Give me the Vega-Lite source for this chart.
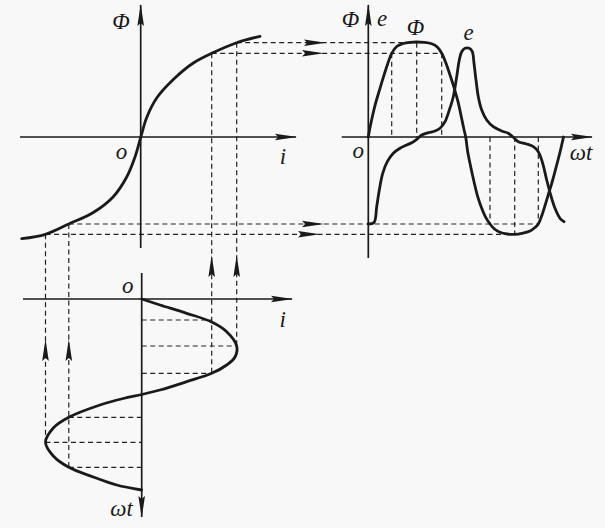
{
  "$schema": "https://vega.github.io/schema/vega-lite/v6.json",
  "width": 605,
  "height": 528,
  "autosize": {"type": "fit", "contains": "padding"},
  "padding": 0,
  "background": "#f8f8f8",
  "config": {"view": {"stroke": null}},
  "datasets": {
    "dashes": [
      {"x": 236.7, "y": 42.7, "x2": 416.7, "y2": 42.7},
      {"x": 211.7, "y": 53.3, "x2": 441.7, "y2": 53.3},
      {"x": 68.8, "y": 224, "x2": 538.3, "y2": 224},
      {"x": 45.5, "y": 234.3, "x2": 514.7, "y2": 234.3},
      {"x": 211.7, "y": 53.3, "x2": 211.7, "y2": 373.3},
      {"x": 236.7, "y": 42.7, "x2": 236.7, "y2": 346},
      {"x": 45.5, "y": 234.3, "x2": 45.5, "y2": 442.3},
      {"x": 68.8, "y": 224, "x2": 68.8, "y2": 467.3},
      {"x": 391.7, "y": 53.3, "x2": 391.7, "y2": 137},
      {"x": 416.7, "y": 42.7, "x2": 416.7, "y2": 137},
      {"x": 441.7, "y": 53.3, "x2": 441.7, "y2": 137},
      {"x": 490, "y": 137, "x2": 490, "y2": 224},
      {"x": 514.7, "y": 137, "x2": 514.7, "y2": 234.3},
      {"x": 538.3, "y": 137, "x2": 538.3, "y2": 224},
      {"x": 141.7, "y": 320, "x2": 211.7, "y2": 320},
      {"x": 141.7, "y": 346, "x2": 236.7, "y2": 346},
      {"x": 141.7, "y": 373.3, "x2": 211.7, "y2": 373.3},
      {"x": 68.8, "y": 417.3, "x2": 141.7, "y2": 417.3},
      {"x": 45.5, "y": 442.3, "x2": 141.7, "y2": 442.3},
      {"x": 68.8, "y": 467.3, "x2": 141.7, "y2": 467.3}
    ],
    "axes": [
      {"x": 140.7, "y": 248, "x2": 140.7, "y2": 5},
      {"x": 20, "y": 137, "x2": 296, "y2": 137},
      {"x": 368.3, "y": 258, "x2": 368.3, "y2": 5},
      {"x": 341.7, "y": 137, "x2": 592, "y2": 137},
      {"x": 141.7, "y": 273, "x2": 141.7, "y2": 517},
      {"x": 23, "y": 299, "x2": 292, "y2": 299}
    ],
    "arrows": [
      {"x": 140.7, "y": 15, "dir": "up"},
      {"x": 368.3, "y": 15, "dir": "up"},
      {"x": 211.7, "y": 266, "dir": "up"},
      {"x": 236.7, "y": 266, "dir": "up"},
      {"x": 45.5, "y": 350, "dir": "up"},
      {"x": 68.8, "y": 350, "dir": "up"},
      {"x": 286, "y": 137, "dir": "right"},
      {"x": 582, "y": 137, "dir": "right"},
      {"x": 282, "y": 299, "dir": "right"},
      {"x": 315, "y": 42.7, "dir": "right"},
      {"x": 313, "y": 53.3, "dir": "right"},
      {"x": 313, "y": 224, "dir": "right"},
      {"x": 309, "y": 234.3, "dir": "right"},
      {"x": 141.7, "y": 507, "dir": "down"}
    ],
    "curves": [
      {"s": "B", "o": 1, "x": 21.7, "y": 238.7},
      {"s": "B", "o": 2, "x": 45.5, "y": 234.3},
      {"s": "B", "o": 3, "x": 68.8, "y": 224},
      {"s": "B", "o": 4, "x": 93.3, "y": 212.5},
      {"s": "B", "o": 5, "x": 113.3, "y": 196.7},
      {"s": "B", "o": 6, "x": 126.7, "y": 177},
      {"s": "B", "o": 7, "x": 135, "y": 157},
      {"s": "B", "o": 8, "x": 140.7, "y": 137.5},
      {"s": "B", "o": 9, "x": 146.7, "y": 117.5},
      {"s": "B", "o": 10, "x": 156.7, "y": 98},
      {"s": "B", "o": 11, "x": 173.3, "y": 79.5},
      {"s": "B", "o": 12, "x": 193.3, "y": 63},
      {"s": "B", "o": 13, "x": 211.7, "y": 53.3},
      {"s": "B", "o": 14, "x": 236.7, "y": 42.7},
      {"s": "B", "o": 15, "x": 260, "y": 36.3},

      {"s": "I", "o": 1, "x": 141.7, "y": 299},
      {"s": "I", "o": 2, "x": 160, "y": 305},
      {"s": "I", "o": 3, "x": 186.7, "y": 313.3},
      {"s": "I", "o": 4, "x": 211.7, "y": 322},
      {"s": "I", "o": 5, "x": 226.7, "y": 331.7},
      {"s": "I", "o": 6, "x": 236.7, "y": 346},
      {"s": "I", "o": 7, "x": 235, "y": 357},
      {"s": "I", "o": 8, "x": 226.7, "y": 365},
      {"s": "I", "o": 9, "x": 211.7, "y": 373.3},
      {"s": "I", "o": 10, "x": 186.7, "y": 381.7},
      {"s": "I", "o": 11, "x": 160, "y": 390},
      {"s": "I", "o": 12, "x": 141.7, "y": 394.5},
      {"s": "I", "o": 13, "x": 123.3, "y": 398.5},
      {"s": "I", "o": 14, "x": 100, "y": 405},
      {"s": "I", "o": 15, "x": 68.8, "y": 417.3},
      {"s": "I", "o": 16, "x": 53.3, "y": 428},
      {"s": "I", "o": 17, "x": 45.5, "y": 442.3},
      {"s": "I", "o": 18, "x": 53.3, "y": 456},
      {"s": "I", "o": 19, "x": 68.8, "y": 467.3},
      {"s": "I", "o": 20, "x": 93.3, "y": 477},
      {"s": "I", "o": 21, "x": 116.7, "y": 485},
      {"s": "I", "o": 22, "x": 141.7, "y": 490},

      {"s": "F", "o": 1, "x": 368.3, "y": 137},
      {"s": "F", "o": 2, "x": 370, "y": 127.7},
      {"s": "F", "o": 3, "x": 372.3, "y": 116.7},
      {"s": "F", "o": 4, "x": 375.3, "y": 104.3},
      {"s": "F", "o": 5, "x": 379, "y": 91.7},
      {"s": "F", "o": 6, "x": 383, "y": 78.3},
      {"s": "F", "o": 7, "x": 387.3, "y": 65},
      {"s": "F", "o": 8, "x": 391.7, "y": 53.3},
      {"s": "F", "o": 9, "x": 396.7, "y": 46.5},
      {"s": "F", "o": 10, "x": 403.3, "y": 43.5},
      {"s": "F", "o": 11, "x": 410, "y": 42.3},
      {"s": "F", "o": 12, "x": 416.7, "y": 42},
      {"s": "F", "o": 13, "x": 424, "y": 42.3},
      {"s": "F", "o": 14, "x": 431.7, "y": 43.7},
      {"s": "F", "o": 15, "x": 437.3, "y": 47},
      {"s": "F", "o": 16, "x": 441.7, "y": 53.3},
      {"s": "F", "o": 17, "x": 446, "y": 63.3},
      {"s": "F", "o": 18, "x": 450, "y": 75},
      {"s": "F", "o": 19, "x": 454, "y": 87.3},
      {"s": "F", "o": 20, "x": 458, "y": 101.7},
      {"s": "F", "o": 21, "x": 461.3, "y": 116.7},
      {"s": "F", "o": 22, "x": 463.7, "y": 128.3},
      {"s": "F", "o": 23, "x": 465.7, "y": 137},
      {"s": "F", "o": 24, "x": 467.7, "y": 151.7},
      {"s": "F", "o": 25, "x": 470.7, "y": 166.7},
      {"s": "F", "o": 26, "x": 474, "y": 181.7},
      {"s": "F", "o": 27, "x": 477.7, "y": 196.7},
      {"s": "F", "o": 28, "x": 481.7, "y": 208.3},
      {"s": "F", "o": 29, "x": 485.3, "y": 216.7},
      {"s": "F", "o": 30, "x": 490, "y": 224},
      {"s": "F", "o": 31, "x": 494.5, "y": 229},
      {"s": "F", "o": 32, "x": 500, "y": 232.3},
      {"s": "F", "o": 33, "x": 507.3, "y": 234},
      {"s": "F", "o": 34, "x": 514.7, "y": 234.3},
      {"s": "F", "o": 35, "x": 522, "y": 233.3},
      {"s": "F", "o": 36, "x": 530, "y": 231},
      {"s": "F", "o": 37, "x": 535, "y": 227.5},
      {"s": "F", "o": 38, "x": 538.3, "y": 224},
      {"s": "F", "o": 39, "x": 542, "y": 215},
      {"s": "F", "o": 40, "x": 545.5, "y": 204},
      {"s": "F", "o": 41, "x": 548.5, "y": 194},
      {"s": "F", "o": 42, "x": 552.7, "y": 180},
      {"s": "F", "o": 43, "x": 556.7, "y": 165},
      {"s": "F", "o": 44, "x": 560.3, "y": 151},
      {"s": "F", "o": 45, "x": 563.5, "y": 137},

      {"s": "E", "o": 1, "x": 368.3, "y": 224},
      {"s": "E", "o": 2, "x": 374, "y": 222.5},
      {"s": "E", "o": 3, "x": 376.7, "y": 206.7},
      {"s": "E", "o": 4, "x": 379.3, "y": 190},
      {"s": "E", "o": 5, "x": 382.7, "y": 173.3},
      {"s": "E", "o": 6, "x": 387.3, "y": 161.7},
      {"s": "E", "o": 7, "x": 393.3, "y": 153.3},
      {"s": "E", "o": 8, "x": 400, "y": 148.3},
      {"s": "E", "o": 9, "x": 406.7, "y": 145},
      {"s": "E", "o": 10, "x": 411.7, "y": 142.7},
      {"s": "E", "o": 11, "x": 416.7, "y": 139.3},
      {"s": "E", "o": 12, "x": 421.7, "y": 135},
      {"s": "E", "o": 13, "x": 428.3, "y": 132.7},
      {"s": "E", "o": 14, "x": 435, "y": 131},
      {"s": "E", "o": 15, "x": 440, "y": 128.3},
      {"s": "E", "o": 16, "x": 445, "y": 121.7},
      {"s": "E", "o": 17, "x": 449.3, "y": 110},
      {"s": "E", "o": 18, "x": 453.3, "y": 96.7},
      {"s": "E", "o": 19, "x": 456.7, "y": 76.7},
      {"s": "E", "o": 20, "x": 459.3, "y": 60},
      {"s": "E", "o": 21, "x": 461.7, "y": 51.7},
      {"s": "E", "o": 22, "x": 465, "y": 48.3},
      {"s": "E", "o": 23, "x": 469.3, "y": 48.3},
      {"s": "E", "o": 24, "x": 472.3, "y": 51.7},
      {"s": "E", "o": 25, "x": 474, "y": 63.3},
      {"s": "E", "o": 26, "x": 476, "y": 80},
      {"s": "E", "o": 27, "x": 478.3, "y": 96.7},
      {"s": "E", "o": 28, "x": 481.7, "y": 110},
      {"s": "E", "o": 29, "x": 486.7, "y": 120},
      {"s": "E", "o": 30, "x": 493.3, "y": 126.7},
      {"s": "E", "o": 31, "x": 501.7, "y": 131},
      {"s": "E", "o": 32, "x": 508.3, "y": 133.3},
      {"s": "E", "o": 33, "x": 513.3, "y": 137.3},
      {"s": "E", "o": 34, "x": 518.3, "y": 141.7},
      {"s": "E", "o": 35, "x": 526.7, "y": 144},
      {"s": "E", "o": 36, "x": 533.3, "y": 146.7},
      {"s": "E", "o": 37, "x": 538.3, "y": 151.7},
      {"s": "E", "o": 38, "x": 542.7, "y": 163.3},
      {"s": "E", "o": 39, "x": 546.7, "y": 180},
      {"s": "E", "o": 40, "x": 550.7, "y": 195},
      {"s": "E", "o": 41, "x": 555, "y": 208.3},
      {"s": "E", "o": 42, "x": 560, "y": 218.3},
      {"s": "E", "o": 43, "x": 564, "y": 221.7}
    ],
    "labels": [
      {"x": 121, "y": 22, "t": "Φ"},
      {"x": 121.5, "y": 152, "t": "o"},
      {"x": 283, "y": 157, "t": "i"},
      {"x": 350.5, "y": 20, "t": "Φ"},
      {"x": 382, "y": 19, "t": "e"},
      {"x": 415.5, "y": 27.5, "t": "Φ"},
      {"x": 468.5, "y": 33, "t": "e"},
      {"x": 358.3, "y": 151, "t": "o"},
      {"x": 581, "y": 153, "t": "ωt"},
      {"x": 127.7, "y": 285.5, "t": "o"},
      {"x": 282.7, "y": 320, "t": "i"},
      {"x": 121.5, "y": 508.5, "t": "ωt"}
    ]
  },
  "layer": [
    {
      "data": {"name": "dashes"},
      "mark": {"type": "rule", "strokeDash": [5, 3.5], "strokeWidth": 1.2, "color": "#222222"},
      "encoding": {
        "x": {"field": "x", "type": "quantitative", "scale": {"domain": [0, 605], "nice": false, "zero": false}, "axis": null},
        "y": {"field": "y", "type": "quantitative", "scale": {"domain": [0, 528], "nice": false, "zero": false, "reverse": true}, "axis": null},
        "x2": {"field": "x2"},
        "y2": {"field": "y2"}
      }
    },
    {
      "data": {"name": "axes"},
      "mark": {"type": "rule", "strokeWidth": 1.7, "color": "#1a1a1a"},
      "encoding": {
        "x": {"field": "x", "type": "quantitative", "scale": {"domain": [0, 605], "nice": false, "zero": false}, "axis": null},
        "y": {"field": "y", "type": "quantitative", "scale": {"domain": [0, 528], "nice": false, "zero": false, "reverse": true}, "axis": null},
        "x2": {"field": "x2"},
        "y2": {"field": "y2"}
      }
    },
    {
      "data": {"name": "curves"},
      "mark": {"type": "line", "interpolate": "catmull-rom", "strokeWidth": 2.8, "color": "#1a1a1a", "strokeCap": "round", "strokeJoin": "round"},
      "encoding": {
        "x": {"field": "x", "type": "quantitative", "scale": {"domain": [0, 605], "nice": false, "zero": false}, "axis": null},
        "y": {"field": "y", "type": "quantitative", "scale": {"domain": [0, 528], "nice": false, "zero": false, "reverse": true}, "axis": null},
        "detail": {"field": "s", "type": "nominal"},
        "order": {"field": "o", "type": "quantitative"}
      }
    },
    {
      "data": {"name": "arrows"},
      "transform": [{"filter": "datum.dir === 'up'"}],
      "mark": {"type": "point", "shape": "M0,-1L0.3,1L0,0.72L-0.3,1Z", "filled": true, "size": 484, "color": "#1a1a1a", "opacity": 1},
      "encoding": {
        "x": {"field": "x", "type": "quantitative", "scale": {"domain": [0, 605], "nice": false, "zero": false}, "axis": null},
        "y": {"field": "y", "type": "quantitative", "scale": {"domain": [0, 528], "nice": false, "zero": false, "reverse": true}, "axis": null},
        "angle": {"value": 0}
      }
    },
    {
      "data": {"name": "arrows"},
      "transform": [{"filter": "datum.dir === 'right'"}],
      "mark": {"type": "point", "shape": "M0,-1L0.3,1L0,0.72L-0.3,1Z", "filled": true, "size": 484, "color": "#1a1a1a", "opacity": 1},
      "encoding": {
        "x": {"field": "x", "type": "quantitative", "scale": {"domain": [0, 605], "nice": false, "zero": false}, "axis": null},
        "y": {"field": "y", "type": "quantitative", "scale": {"domain": [0, 528], "nice": false, "zero": false, "reverse": true}, "axis": null},
        "angle": {"value": 90}
      }
    },
    {
      "data": {"name": "arrows"},
      "transform": [{"filter": "datum.dir === 'down'"}],
      "mark": {"type": "point", "shape": "M0,-1L0.3,1L0,0.72L-0.3,1Z", "filled": true, "size": 484, "color": "#1a1a1a", "opacity": 1},
      "encoding": {
        "x": {"field": "x", "type": "quantitative", "scale": {"domain": [0, 605], "nice": false, "zero": false}, "axis": null},
        "y": {"field": "y", "type": "quantitative", "scale": {"domain": [0, 528], "nice": false, "zero": false, "reverse": true}, "axis": null},
        "angle": {"value": 180}
      }
    },
    {
      "data": {"name": "labels"},
      "mark": {"type": "text", "font": "Liberation Serif", "fontStyle": "italic", "fontSize": 23, "color": "#1a1a1a", "align": "center", "baseline": "middle"},
      "encoding": {
        "x": {"field": "x", "type": "quantitative", "scale": {"domain": [0, 605], "nice": false, "zero": false}, "axis": null},
        "y": {"field": "y", "type": "quantitative", "scale": {"domain": [0, 528], "nice": false, "zero": false, "reverse": true}, "axis": null},
        "text": {"field": "t", "type": "nominal"}
      }
    }
  ]
}
